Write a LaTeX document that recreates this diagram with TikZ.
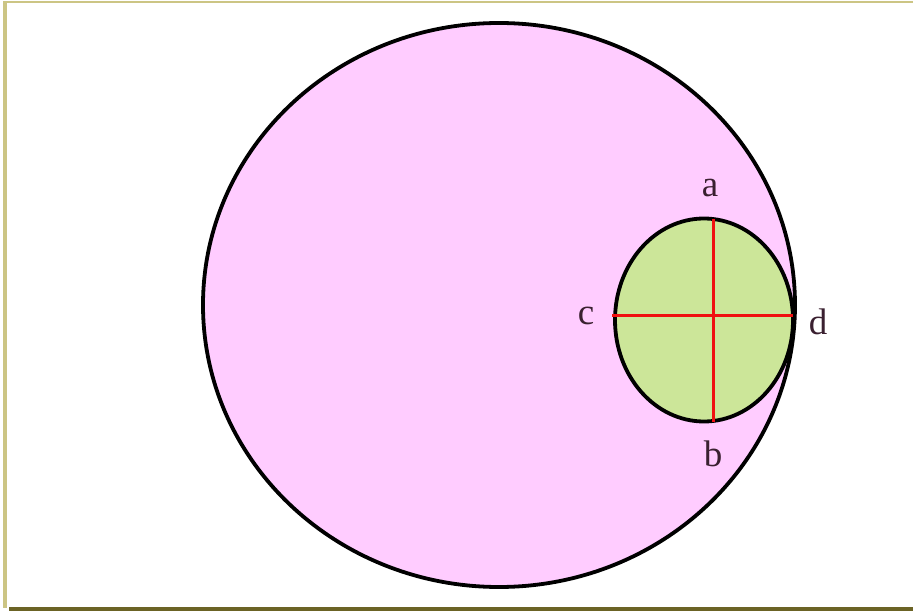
\documentclass[tikz,border=0pt]{standalone}
\usepackage{fontspec}
\setmainfont{Liberation Serif}
\definecolor{pinkfill}{HTML}{FFCCFF}
\definecolor{greenfill}{HTML}{CCE699}
\definecolor{framelight}{HTML}{CCC584}
\definecolor{framedark}{HTML}{6B6325}
\definecolor{redline}{HTML}{F01010}
\definecolor{labelcol}{HTML}{3A2030}
\begin{document}
\begin{tikzpicture}[x=1pt,y=-1pt,
  outline/.style={draw=black,line width=3.8pt},
  diam/.style={draw=redline,line width=3pt},
  lbl/.style={font=\fontsize{37}{42}\selectfont,text=labelcol,inner sep=0pt}]
\useasboundingbox (0,0) rectangle (913,612);
% frame
\fill[framelight] (3,0.8) rectangle (913,2.6);
\fill[framelight] (3,0.8) rectangle (7,608);
\fill[framedark] (9,607) rectangle (913,611);
% big circle
\path[outline,fill=pinkfill] (499,305) ellipse [x radius=296, y radius=282];
% small circle
\path[outline,fill=greenfill] (704,320) ellipse [x radius=89, y radius=101.5];
% diameters
\coordinate (A) at (713,219);
\coordinate (B) at (713,422);
\coordinate (C) at (612,316);
\coordinate (D) at (793,316);
\draw[diam] (A) -- (B);
\draw[diam] (C) -- (D);
% labels
\node[lbl] (la) at (710,188) {a};
\node[lbl] (lb) at (713,454) {b};
\node[lbl] (lc) at (586,316) {c};
\node[lbl] (ld) at (818,322) {d};
\end{tikzpicture}
\end{document}
